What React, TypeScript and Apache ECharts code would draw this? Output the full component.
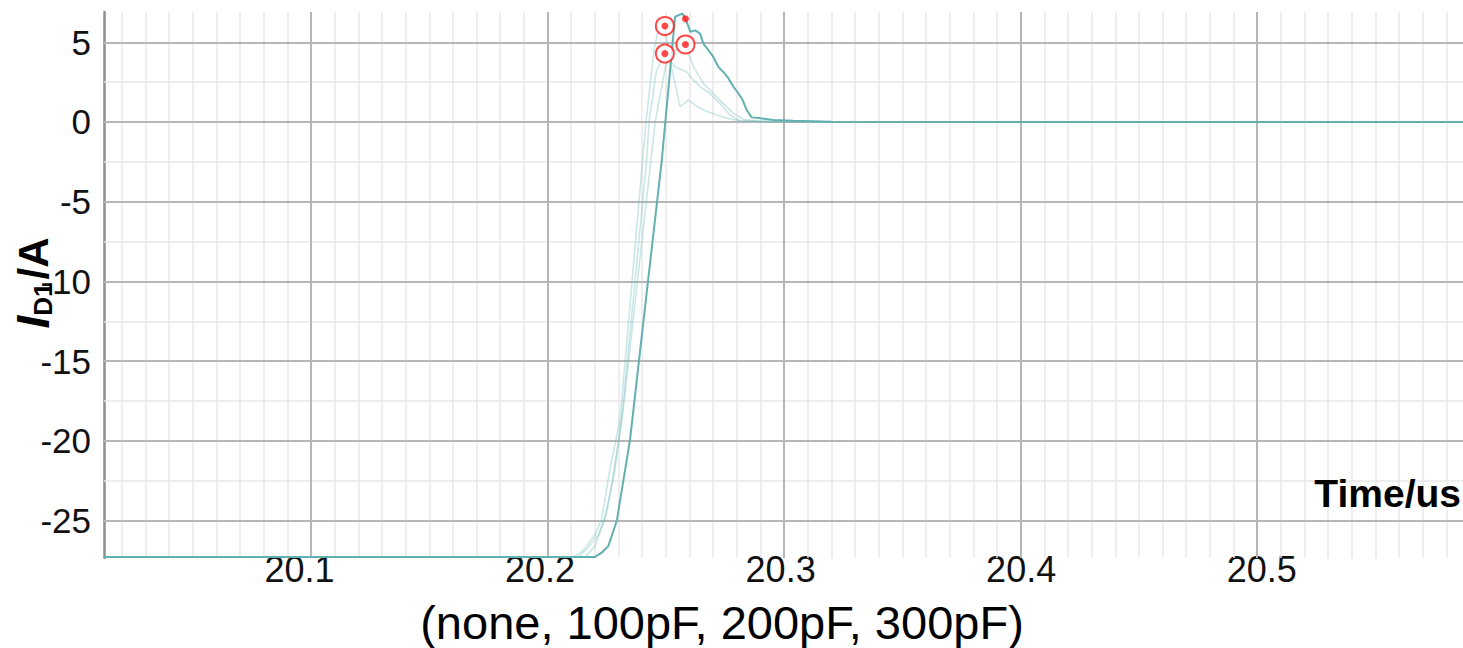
import React, { useEffect, useRef } from 'react';
import * as echarts from 'echarts';

const FONT = '"Liberation Sans", Arial, Helvetica, sans-serif';

// Axis extents (us, A)
const X_MIN = 20.0125;
const X_MAX = 20.587;
const Y_MIN = -27.35;
const Y_MAX = 6.9;

// The tick-label row is laid out on its own slightly wider time scale
const LABEL_X_MIN = 20.0187;
const LABEL_X_MAX = 20.5837;

// Tick values
const xMajorTicks = [20.1, 20.2, 20.3, 20.4, 20.5];
const yMajorTicks = [-25, -20, -15, -10, -5, 0, 5];
const yMinorTicks = [-22.5, -17.5, -12.5, -7.5, -2.5, 2.5];
const xMinorTicks = Array.from({ length: 57 }, (_, i) => +(20.02 + i * 0.01).toFixed(2)).filter(
  (v) => !xMajorTicks.some((m) => Math.abs(m - v) < 1e-6)
);

// Diode current I_D1 during turn-off, one trace per snubber capacitance
const timeNone = [20.0125, 20.211, 20.215, 20.2201, 20.2229, 20.2264, 20.2307, 20.2402, 20.2416, 20.245, 20.247, 20.2496, 20.2515, 20.2539, 20.256, 20.2596, 20.262, 20.2659, 20.2715, 20.2757, 20.2813, 20.29, 20.32, 20.587];
const currentNone = [-27.28, -27.28, -26.9, -25.9, -24.9, -21.75, -18.6, -2.38, 0, 4.5, 5.9, 6.02, 4.0, 2.42, 0.96, 1.375, 1.1, 0.75, 0.44, 0.23, 0.08, 0.03, 0.0, 0.0];

const time100 = [20.0125, 20.213, 20.2165, 20.2215, 20.225, 20.2285, 20.2314, 20.2419, 20.2429, 20.246, 20.2496, 20.2539, 20.2589, 20.2617, 20.2645, 20.2687, 20.2729, 20.2771, 20.2813, 20.29, 20.32, 20.587];
const current100 = [-27.28, -27.28, -26.8, -25.9, -24.5, -21.75, -18.6, -2.38, 0, 3.2, 4.29, 3.46, 3.14, 2.625, 2.21, 1.79, 1.17, 0.44, 0.08, 0.03, 0.0, 0.0];

const time200 = [20.0125, 20.216, 20.22, 20.224, 20.2275, 20.232, 20.244, 20.2455, 20.25, 20.254, 20.2583, 20.2617, 20.2659, 20.2701, 20.2743, 20.2786, 20.2828, 20.29, 20.32, 20.587];
const current200 = [-27.28, -27.28, -26.6, -25.0, -22.5, -18.0, -2.0, 0, 3.6, 4.5, 4.86, 3.46, 2.42, 1.79, 1.17, 0.54, 0.17, 0.05, 0.0, 0.0];

const time300 = [20.0125, 20.2201, 20.223, 20.2257, 20.2293, 20.2349, 20.242, 20.2483, 20.2539, 20.257, 20.2583, 20.2604, 20.2624, 20.2645, 20.2659, 20.268, 20.2701, 20.2722, 20.2743, 20.2765, 20.2786, 20.2807, 20.2825, 20.2842, 20.2863, 20.2899, 20.2955, 20.3038, 20.32, 20.587];
const current300 = [-27.28, -27.28, -27.0, -26.6, -25.0, -19.9, -10.6, -2.4, 6.6, 6.8, 6.48, 5.65, 5.75, 5.54, 4.92, 4.5, 4.08, 3.46, 3.14, 2.73, 2.21, 1.79, 1.375, 0.75, 0.29, 0.23, 0.125, 0.08, 0.01, 0.0];

// Peak markers: plain dot on the strongest trace, ringed dots on the others
const dotTimes = [20.2583];
const dotValues = [6.48];
const ringTimes = [20.2496, 20.2496, 20.2583];
const ringValues = [6.02, 4.29, 4.86];

const TEAL = '#62b0b0';
const TEAL_FAINT = 'rgba(110, 185, 185, 0.36)';

const pairs = (xs: number[], ys: number[]) => xs.map((x, i) => [x, ys[i]]);

export default function App() {
  const ref = useRef<HTMLDivElement>(null);

  useEffect(() => {
    if (!ref.current) return;
    const chart = echarts.init(ref.current, null, { renderer: 'svg' });

    const minorStyle = { color: '#e8e8e8', width: 1.5, type: 'solid' as const };
    const majorStyle = { color: '#b6b6b6', width: 2, type: 'solid' as const };
    const gridLines = [
      ...xMinorTicks.map((v) => ({ xAxis: v, lineStyle: minorStyle })),
      ...yMinorTicks.map((v) => ({ yAxis: v, lineStyle: minorStyle })),
      ...xMajorTicks.map((v) => ({ xAxis: v, lineStyle: majorStyle })),
      ...yMajorTicks.map((v) => ({ yAxis: v, lineStyle: majorStyle })),
    ];

    const faintLine = (name: string, data: number[][]) => ({
      name,
      type: 'line',
      data,
      showSymbol: false,
      symbol: 'none',
      lineStyle: { color: TEAL_FAINT, width: 1.6 },
      z: 3,
      silent: true,
    });

    chart.setOption({
      animation: false,
      backgroundColor: '#ffffff',
      grid: { left: 104, top: 12, right: 0, bottom: 90, containLabel: false, outerBoundsMode: 'none' },
      xAxis: [
        {
          type: 'value',
          min: X_MIN,
          max: X_MAX,
          axisLine: { show: false },
          axisTick: { show: false },
          splitLine: { show: false },
          axisLabel: { show: false },
        },
        {
          type: 'value',
          position: 'bottom',
          min: LABEL_X_MIN,
          max: LABEL_X_MAX,
          axisLine: { show: false },
          axisTick: { show: false },
          splitLine: { show: false },
          axisLabel: {
            customValues: xMajorTicks,
            fontSize: 36,
            fontFamily: FONT,
            color: '#111',
            margin: -7,
            formatter: (v: number) => v.toFixed(1),
          },
        },
      ],
      yAxis: {
        type: 'value',
        min: Y_MIN,
        max: Y_MAX,
        axisLine: { show: true, onZero: false, lineStyle: { color: '#8f8f8f', width: 2.5 } },
        axisTick: { show: false },
        splitLine: { show: false },
        axisLabel: {
          customValues: yMajorTicks,
          fontSize: 35,
          fontFamily: FONT,
          color: '#111',
          margin: 13,
        },
      },
      series: [
        {
          name: 'grid',
          type: 'line',
          data: [[X_MIN, Y_MIN]],
          showSymbol: false,
          symbol: 'none',
          lineStyle: { opacity: 0 },
          silent: true,
          z: 1,
          markLine: {
            silent: true,
            z: 1,
            symbol: ['none', 'none'],
            label: { show: false },
            emphasis: { disabled: true },
            animation: false,
            data: gridLines,
          },
        },
        faintLine('none', pairs(timeNone, currentNone)),
        faintLine('100pF', pairs(time100, current100)),
        faintLine('200pF', pairs(time200, current200)),
        {
          name: '300pF',
          type: 'line',
          data: pairs(time300, current300),
          showSymbol: false,
          symbol: 'none',
          lineStyle: { color: TEAL, width: 2 },
          z: 4,
          silent: true,
        },
        {
          name: 'rings',
          type: 'scatter',
          data: pairs(ringTimes, ringValues),
          symbol: 'emptyCircle',
          symbolSize: 18,
          itemStyle: { color: '#ff1a1a', borderWidth: 2.5 },
          z: 5,
          silent: true,
        },
        {
          name: 'dots',
          type: 'scatter',
          data: [...pairs(dotTimes, dotValues), ...pairs(ringTimes, ringValues)],
          symbol: 'circle',
          symbolSize: 7,
          itemStyle: { color: '#ff1a1a' },
          z: 6,
          silent: true,
        },
      ],
      graphic: [
        {
          type: 'text',
          x: 1461,
          y: 493,
          style: {
            text: 'Time/us',
            font: `bold 39px ${FONT}`,
            fill: '#000',
            align: 'right',
            verticalAlign: 'middle',
          },
          z: 10,
        },
        {
          type: 'text',
          x: 722,
          y: 622,
          style: {
            text: '(none, 100pF, 200pF, 300pF)',
            font: `47px ${FONT}`,
            fill: '#000',
            align: 'center',
            verticalAlign: 'middle',
          },
          z: 10,
        },
        {
          type: 'text',
          x: 33,
          y: 283,
          rotation: Math.PI / 2,
          style: {
            text: '{i|I}{s|D1}{n|/A}',
            align: 'center',
            verticalAlign: 'middle',
            fill: '#000',
            rich: {
              i: { fontSize: 46, fontWeight: 'bold', fontStyle: 'italic', fontFamily: FONT, fill: '#000' },
              s: { fontSize: 26, fontWeight: 'bold', fontFamily: FONT, fill: '#000', verticalAlign: 'bottom', lineHeight: 42, padding: [0, 3, 0, 0] },
              n: { fontSize: 42, fontWeight: 'bold', fontFamily: FONT, fill: '#000' },
            },
          },
          z: 10,
        },
      ],
    });

    return () => chart.dispose();
  }, []);

  return (
    <div
      ref={ref}
      style={{ position: 'fixed', left: 0, top: 0, width: 1463, height: 648, background: '#fff' }}
    />
  );
}
